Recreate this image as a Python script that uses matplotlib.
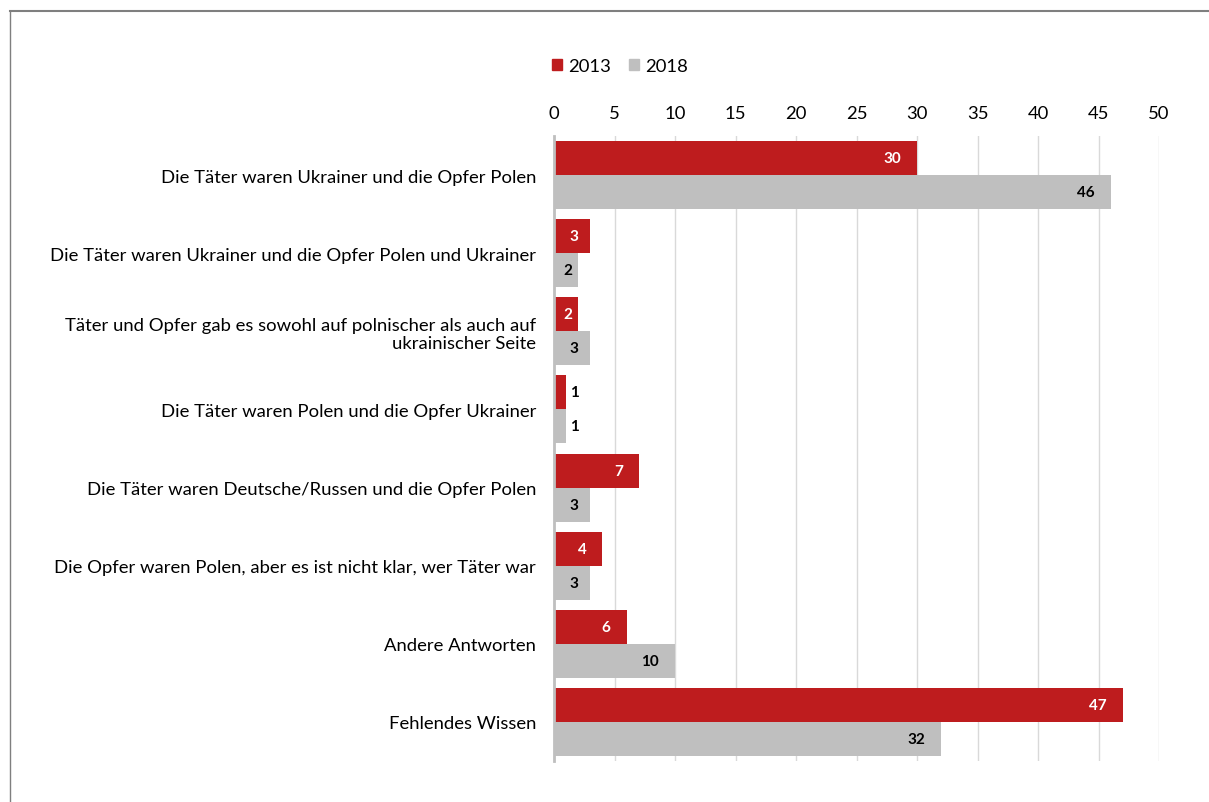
import matplotlib
matplotlib.use('Agg')
import numpy as np
from matplotlib import pyplot as plt
from matplotlib.lines import Line2D
from matplotlib.patches import Patch

plt.rcParams['font.family'] = ['Lato', 'DejaVu Sans']

categories = [
    'Die Täter waren Ukrainer und die Opfer Polen',
    'Die Täter waren Ukrainer und die Opfer Polen und Ukrainer',
    'Täter und Opfer gab es sowohl auf polnischer als auch auf\nukrainischer Seite',
    'Die Täter waren Polen und die Opfer Ukrainer',
    'Die Täter waren Deutsche/Russen und die Opfer Polen',
    'Die Opfer waren Polen, aber es ist nicht klar, wer Täter war',
    'Andere Antworten',
    'Fehlendes Wissen',
]
vals_2013 = [30, 3, 2, 1, 7, 4, 6, 47]
vals_2018 = [46, 2, 3, 1, 3, 3, 10, 32]
years = ['2013', '2018']

red = '#BE1C1E'
grey = '#BFBFBF'

fig = plt.figure(figsize=(12.09, 8.03), dpi=100)
ax = fig.add_axes([554 / 1209, 1 - 762 / 803, (1159 - 554) / 1209, (762 - 137) / 803])

y = np.arange(len(categories))
h = 0.435
ax.barh(y - h / 2, vals_2013, height=h, color=red, zorder=3)
ax.barh(y + h / 2, vals_2018, height=h, color=grey, zorder=3)

kw = dict(textcoords='offset points', va='center', fontsize=11, fontweight='bold')
for i in range(len(categories)):
    for v, off, col in [(vals_2013[i], -h / 2, 'white'), (vals_2018[i], h / 2, 'black')]:
        yy = y[i] + off
        if v <= 1:
            # too short: label sits just outside the bar
            ax.annotate(str(v), (v, yy), xytext=(3, 0), ha='left', color='black', **kw)
        elif v <= 3:
            ax.annotate(str(v), (v / 2, yy), xytext=(1, 0), ha='center', color=col, **kw)
        else:
            ax.annotate(str(v), (v, yy), xytext=(-11.5, 0), ha='right', color=col, **kw)

ax.set_xlim(0, 50)
ax.set_xticks(range(0, 51, 5))
ax.set_ylim(len(categories) - 0.5, -0.5)
ax.set_yticks(y)
ax.set_yticklabels(categories, fontsize=13.3)
ax.xaxis.tick_top()
ax.tick_params(axis='x', length=0, labelsize=13.3, pad=11)
ax.tick_params(axis='y', length=0, pad=13)
ax.grid(axis='x', color='#D9D9D9', linewidth=1, zorder=0)
for s in ['top', 'right', 'bottom']:
    ax.spines[s].set_visible(False)
ax.spines['left'].set_color('#BFBFBF')
ax.spines['left'].set_linewidth(2)
ax.spines['left'].set_zorder(4)

handles = [Patch(color=red), Patch(color=grey)]
fig.legend(handles, years, loc='center left', bbox_to_anchor=(552 / 1209, 1 - 67 / 803),
           ncol=2, frameon=False, fontsize=13.3, handlelength=0.55, handleheight=0.55,
           handletextpad=0.3, columnspacing=1.0, borderpad=0, borderaxespad=0)

# outer frame
fig.add_artist(Line2D([10 / 1209, 10 / 1209], [0, 1 - 12 / 803], transform=fig.transFigure,
                      color='#7F7F7F', linewidth=1))
fig.add_artist(Line2D([10 / 1209, 1], [1 - 12 / 803, 1 - 12 / 803], transform=fig.transFigure,
                      color='#7F7F7F', linewidth=1.5))

fig.savefig('out.png', dpi=100)
